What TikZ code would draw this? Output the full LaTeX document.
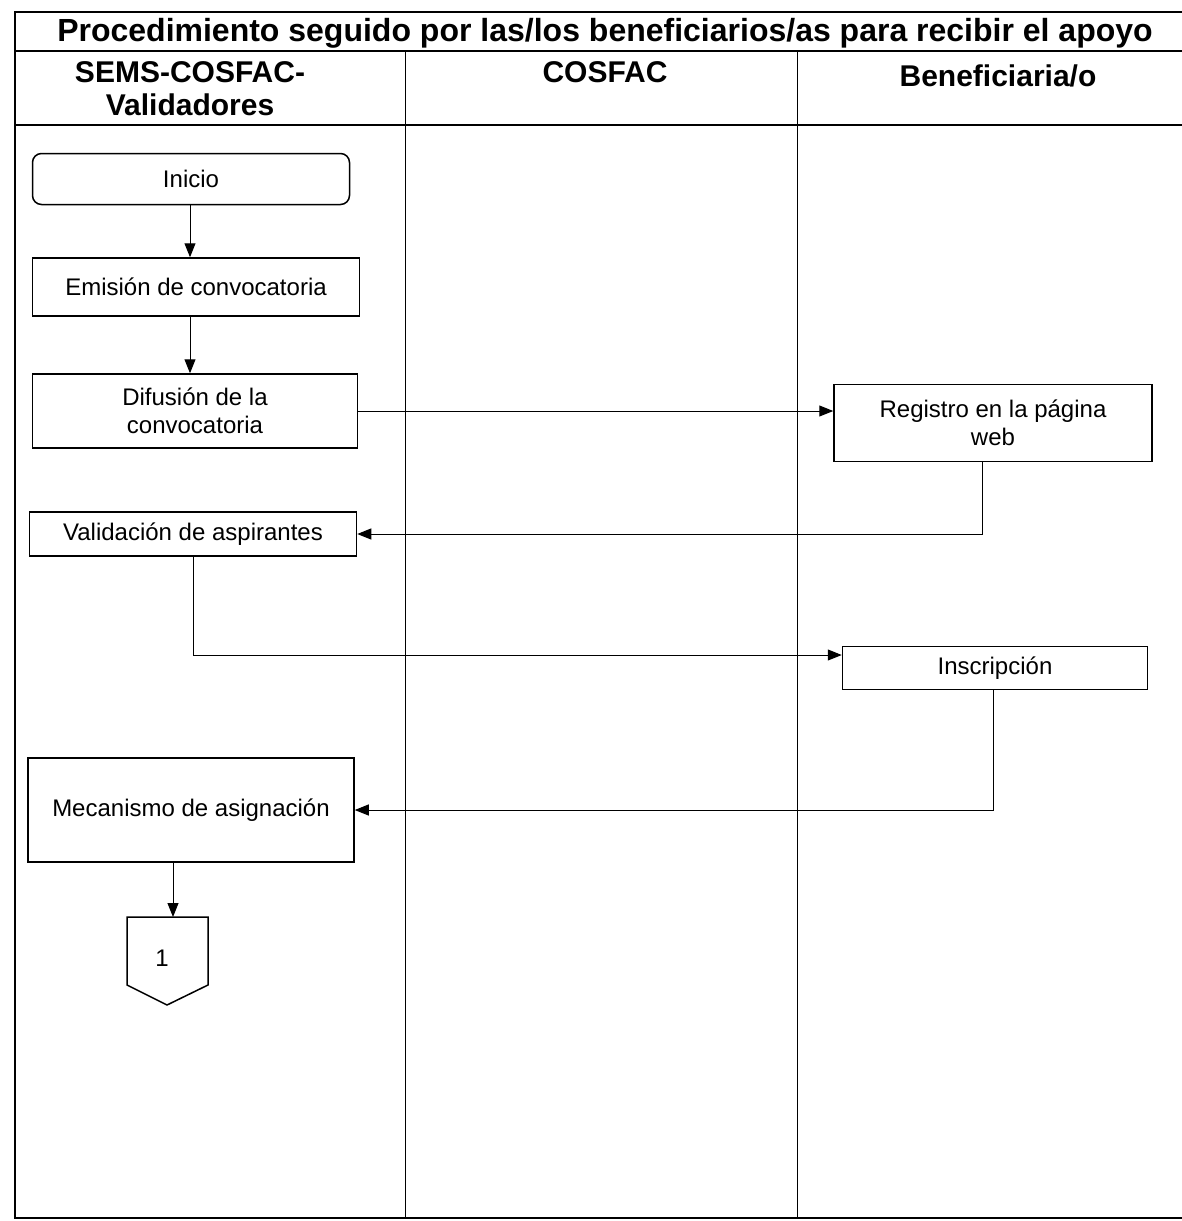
\documentclass[tikz,border=0pt]{standalone}
\usepackage{fontspec}
\setmainfont{Liberation Sans}
\usetikzlibrary{arrows.meta}

\begin{document}
\begin{tikzpicture}[x=1pt,y=-1pt,
  box/.style={draw,line width=1.5pt,align=center,font=\fontsize{24}{28}\selectfont},
  flow/.style={-{Triangle[length=14pt,width=11pt]},line width=1pt},
  head/.style={font=\bfseries\fontsize{30}{33}\selectfont,align=center},
  frame/.style={line width=1.3pt}]
\useasboundingbox (0,0) rectangle (1182,1221);
\draw[frame] (1182,12) -- (15,12) -- (15,1218) -- (1182,1218);
\draw[frame] (15,51) -- (1182,51);
\draw[frame] (15,125) -- (1182,125);
\draw[line width=1pt] (405,51) -- (405,1218);
\draw[line width=1pt] (797,51) -- (797,1218);
\node[font=\bfseries\fontsize{32}{35}\selectfont] at (605,33) (title) {Procedimiento seguido por las/los beneficiarios/as para recibir el apoyo};
\node[head] at (190,89) (lane1) {SEMS-COSFAC-\\Validadores};
\node[head] at (605,72) (lane2) {COSFAC};
\node[head] at (998,76) (lane3) {Beneficiaria/o};
\node[box,rounded corners=9pt,minimum width=317pt,minimum height=51pt] at (191,179) (inicio) {Inicio};
\node[box,minimum width=327pt,minimum height=58pt] at (196,287) (emision) {Emisión de convocatoria};
\node[box,minimum width=325pt,minimum height=74pt] at (195,411) (difusion) {Difusión de la\\convocatoria};
\node[box,minimum width=318pt,minimum height=77pt] at (993,423) (registro) {Registro en la página\\web};
\node[box,minimum width=327pt,minimum height=44pt] at (193,534) (validacion) {Validación de aspirantes};
\node[box,minimum width=305pt,minimum height=43pt] at (995,668) (inscripcion) {Inscripción};
\node[box,minimum width=326pt,minimum height=104pt] at (191,810) (mecanismo) {Mecanismo de asignación};
\node[font=\fontsize{24}{28}\selectfont] at (162,958) (uno) {1};
\coordinate (conntop) at (173,917);
\draw[line width=1.5pt] (127,917) -- (208,917) -- (208,985) -- (167,1005) -- (127,985) -- cycle;
\draw[flow] (inicio.south -| 190,0) -- (emision.north -| 190,0);
\draw[flow] (emision.south -| 190,0) -- (difusion.north -| 190,0);
\draw[flow] (difusion.east) -- (difusion.east -| registro.west);
\draw[flow] ([xshift=-11pt]registro.south) |- (validacion.east);
\draw[flow] (validacion.south) |- ([yshift=13pt]inscripcion.west);
\draw[flow] ([xshift=-2pt]inscripcion.south) |- (mecanismo.east);
\draw[flow] (mecanismo.south -| conntop) -- (conntop);
\end{tikzpicture}
\end{document}
